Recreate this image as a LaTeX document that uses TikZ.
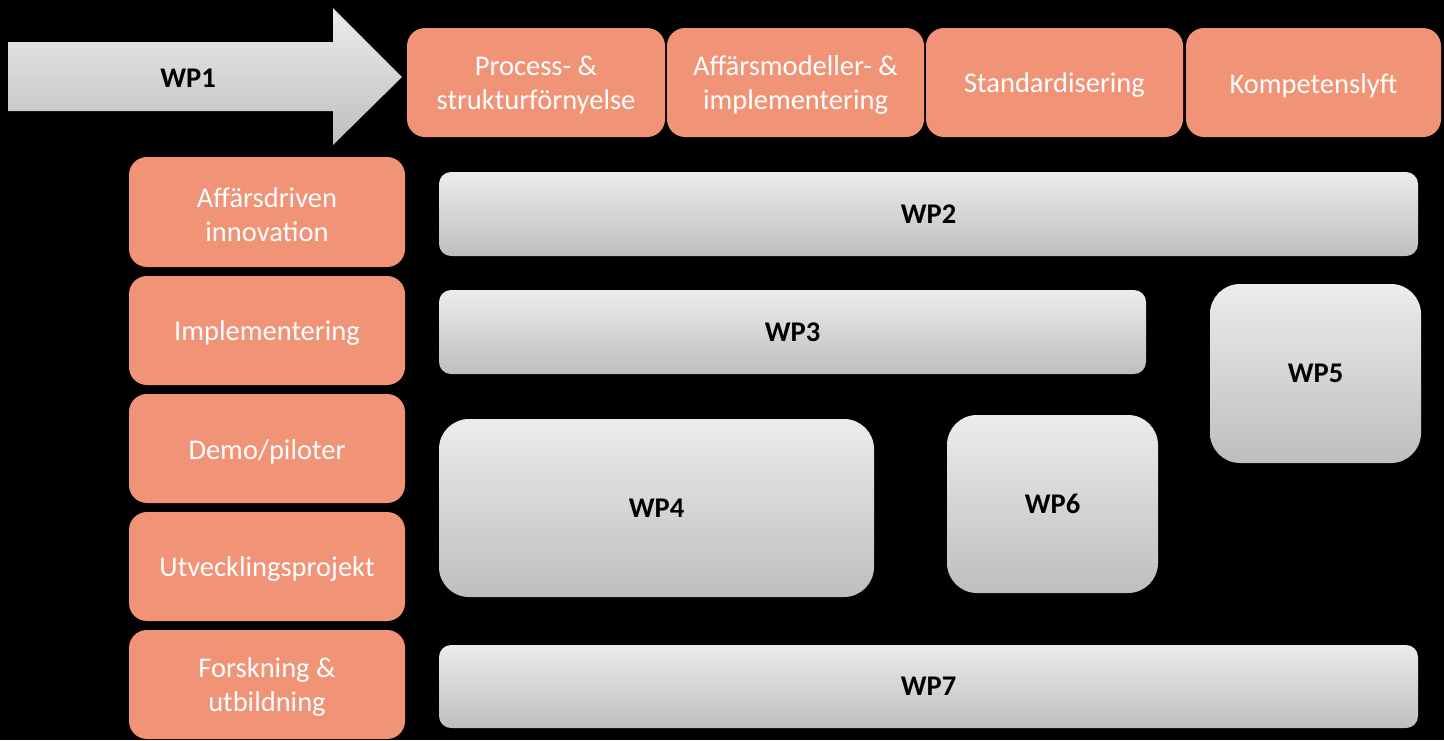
\documentclass[tikz,border=0pt]{standalone}
\usepackage{fontspec}
\setmainfont{Carlito}
\definecolor{salmon}{RGB}{240,147,118}
\definecolor{gtop}{RGB}{236,236,236}
\definecolor{gbot}{RGB}{190,190,190}
\begin{document}
\begin{tikzpicture}[x=1pt,y=-1pt,
  obox/.style={fill=salmon, rounded corners=18pt, inner sep=0pt,
    label={[text=white, align=center, inner sep=0pt, yshift=-3pt,
      font=\fontsize{28.5}{34}\selectfont]center:{#1}}},
  gbox/.style={top color=gtop, bottom color=gbot, draw=none, align=center, inner sep=0pt,
    font=\fontsize{28.5}{34}\selectfont\bfseries, text=black},
  bar/.style={gbox, rounded corners=12pt},
  blk/.style={gbox, rounded corners=30pt}]
\fill[black] (0,0) rectangle (1444,740);
\useasboundingbox (0,0) rectangle (1444,740);
% WP1 arrow
\shade[top color=gtop, bottom color=gbot] (8,42) -- (333,42) -- (333,8) -- (402,77) -- (333,145) -- (333,111) -- (8,111) -- cycle;
\node[font=\fontsize{28.5}{34}\selectfont\bfseries] (wp1) at (188,78) {WP1};
% top boxes
\node[obox={Process- \&\\strukturförnyelse}, minimum width=258pt, minimum height=109pt] (t1) at (536,82.5) {};
\node[obox={Affärsmodeller- \&\\implementering}, minimum width=257pt, minimum height=109pt] (t2) at (795.5,82.5) {};
\node[obox={Standardisering}, minimum width=257pt, minimum height=109pt] (t3) at (1054.5,82.5) {};
\node[obox={Kompetenslyft}, minimum width=255pt, minimum height=109pt] (t4) at (1313.5,82.5) {};
% left boxes
\node[obox={Affärsdriven\\innovation}, minimum width=276pt, minimum height=110pt] (l1) at (267,212) {};
\node[obox={Implementering}, minimum width=276pt, minimum height=109pt] (l2) at (267,330.5) {};
\node[obox={Demo/piloter}, minimum width=276pt, minimum height=109pt] (l3) at (267,448.5) {};
\node[obox={Utvecklingsprojekt}, minimum width=276pt, minimum height=109pt] (l4) at (267,566.5) {};
\node[obox={Forskning \&\\utbildning}, minimum width=276pt, minimum height=109pt] (l5) at (267,684.5) {};
% WP boxes
\node[bar, minimum width=979pt, minimum height=84pt] (wp2) at (928.5,214) {WP2};
\node[bar, minimum width=707pt, minimum height=84pt] (wp3) at (792.5,332) {WP3};
\node[blk, minimum width=211pt, minimum height=179pt] (wp5) at (1315.5,373.5) {WP5};
\node[blk, minimum width=435pt, minimum height=178pt] (wp4) at (656.5,508) {WP4};
\node[blk, minimum width=211pt, minimum height=178pt] (wp6) at (1052.5,504) {WP6};
\node[bar, minimum width=979pt, minimum height=83pt] (wp7) at (928.5,686.5) {WP7};
\end{tikzpicture}
\end{document}
